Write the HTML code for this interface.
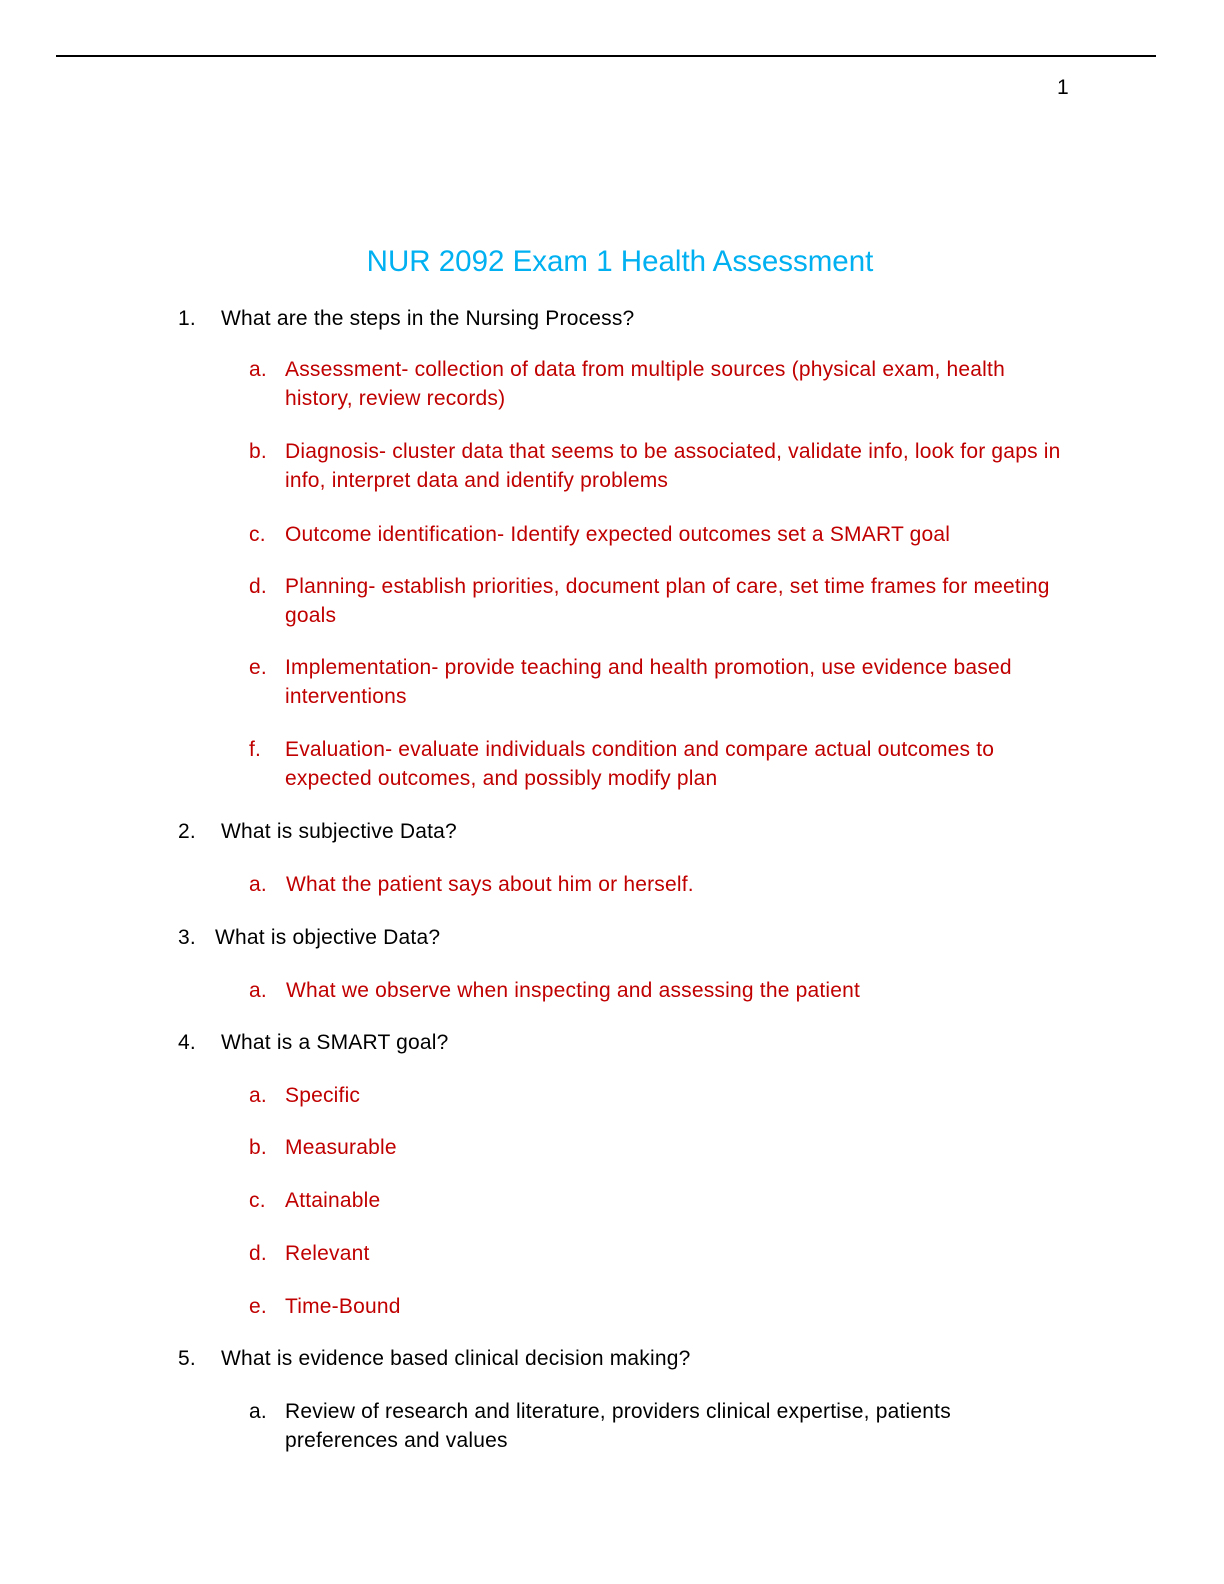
<!DOCTYPE html>
<html><head><meta charset="utf-8"><style>
html,body{margin:0;width:1224px;height:1584px;overflow:hidden;}
body{background:#fff;position:relative;font-family:"Liberation Sans",sans-serif;}
.t{position:absolute;font-size:21px;line-height:29px;white-space:nowrap;color:#000;letter-spacing:0.2px}
.r{color:#c00000}
</style></head><body>
<div style="position:absolute;left:56px;top:55px;width:1100px;height:2px;background:#000"></div>
<div class="t" style="left:1057px;top:73px">1</div>
<div class="t" style="left:0;width:1224px;text-align:center;top:243px;font-size:29.5px;line-height:38px;color:#00b0f0;letter-spacing:0;padding-left:16px;box-sizing:border-box">NUR 2092 Exam 1 Health Assessment</div>

<div class="t" style="left:178px;top:304px">1.</div><div class="t" style="left:221px;top:304px">What are the steps in the Nursing Process?</div>
<div class="t r" style="left:249px;top:355px">a.</div><div class="t r" style="left:285px;top:355px">Assessment- collection of data from multiple sources (physical exam, health<br>history, review records)</div>
<div class="t r" style="left:249px;top:437px">b.</div><div class="t r" style="left:285px;top:437px">Diagnosis- cluster data that seems to be associated, validate info, look for gaps in<br>info, interpret data and identify problems</div>
<div class="t r" style="left:249px;top:520px">c.</div><div class="t r" style="left:285px;top:520px">Outcome identification- Identify expected outcomes set a SMART goal</div>
<div class="t r" style="left:249px;top:572px">d.</div><div class="t r" style="left:285px;top:572px">Planning- establish priorities, document plan of care, set time frames for meeting<br>goals</div>
<div class="t r" style="left:249px;top:653px">e.</div><div class="t r" style="left:285px;top:653px">Implementation- provide teaching and health promotion, use evidence based<br>interventions</div>
<div class="t r" style="left:249px;top:735px">f.</div><div class="t r" style="left:285px;top:735px">Evaluation- evaluate individuals condition and compare actual outcomes to<br>expected outcomes, and possibly modify plan</div>

<div class="t" style="left:178px;top:817px">2.</div><div class="t" style="left:221px;top:817px">What is subjective Data?</div>
<div class="t r" style="left:249px;top:870px">a.</div><div class="t r" style="left:286px;top:870px">What the patient says about him or herself.</div>

<div class="t" style="left:178px;top:923px">3.</div><div class="t" style="left:215px;top:923px">What is objective Data?</div>
<div class="t r" style="left:249px;top:976px">a.</div><div class="t r" style="left:286px;top:976px">What we observe when inspecting and assessing the patient</div>

<div class="t" style="left:178px;top:1028px">4.</div><div class="t" style="left:221px;top:1028px">What is a SMART goal?</div>
<div class="t r" style="left:249px;top:1081px">a.</div><div class="t r" style="left:285px;top:1081px">Specific</div>
<div class="t r" style="left:249px;top:1133px">b.</div><div class="t r" style="left:285px;top:1133px">Measurable</div>
<div class="t r" style="left:249px;top:1186px">c.</div><div class="t r" style="left:285px;top:1186px">Attainable</div>
<div class="t r" style="left:249px;top:1239px">d.</div><div class="t r" style="left:285px;top:1239px">Relevant</div>
<div class="t r" style="left:249px;top:1292px">e.</div><div class="t r" style="left:285px;top:1292px">Time-Bound</div>

<div class="t" style="left:178px;top:1344px">5.</div><div class="t" style="left:221px;top:1344px">What is evidence based clinical decision making?</div>
<div class="t" style="left:249px;top:1397px">a.</div><div class="t" style="left:285px;top:1397px">Review of research and literature, providers clinical expertise, patients<br>preferences and values</div>
</body></html>
